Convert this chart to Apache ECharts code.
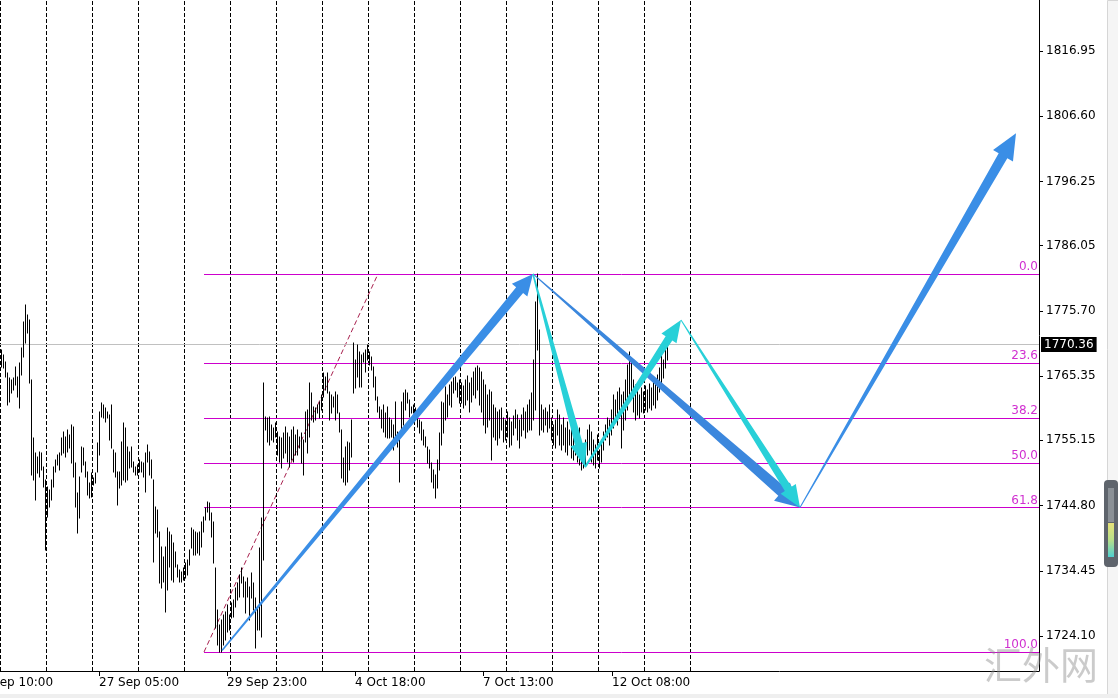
<!DOCTYPE html>
<html><head><meta charset="utf-8">
<script src="https://cdn.jsdelivr.net/npm/echarts@6/dist/echarts.min.js"></script>
<style>html,body{margin:0;padding:0;background:#fff;overflow:hidden}#c{width:1118px;height:698px}</style>
</head><body><div id="c"></div>
<script>
// ---- data (H1 bars, high / low) ----
const highs = [
1769.5,1768.7,1767.6,1765.8,1765.0,1764.7,1765.0,1766.8,1765.2,1767.4,
1769.8,1773.9,1776.6,1775.0,1774.2,1764.7,1755.5,1753.1,1752.5,1753.3,
1753.1,1750.9,1748.9,1747.7,1747.3,1748.9,1750.9,1752.0,1752.8,1753.1,
1755.5,1756.5,1755.7,1756.8,1756.0,1757.6,1757.3,1751.5,1746.8,1749.3,
1754.1,1753.9,1751.7,1750.1,1748.4,1749.9,1749.2,1749.9,1754.7,1759.6,
1761.1,1760.8,1760.3,1759.6,1759.2,1760.8,1753.6,1753.1,1750.1,1750.1,
1754.9,1757.9,1757.1,1754.1,1753.3,1754.1,1751.7,1750.9,1751.2,1752.0,
1751.7,1751.5,1753.1,1754.4,1753.3,1752.0,1748.9,1744.6,1744.1,1740.6,
1738.2,1736.6,1738.2,1741.2,1740.6,1740.1,1738.9,1737.4,1735.4,1734.6,
1734.2,1734.9,1735.7,1736.2,1737.7,1741.2,1740.9,1740.6,1740.4,1740.6,
1742.2,1743.0,1744.4,1745.4,1745.2,1743.6,1742.2,1734.9,1728.2,1725.8,
1726.6,1727.4,1727.9,1729.0,1727.4,1729.3,1729.8,1731.7,1732.5,1733.8,
1734.9,1733.5,1732.7,1733.3,1731.9,1734.1,1732.5,1730.1,1728.7,1738.1,
1742.8,1764.2,1758.9,1758.7,1758.9,1757.6,1757.1,1757.9,1756.5,1755.7,
1755.5,1756.3,1757.3,1756.3,1755.7,1756.8,1757.3,1756.0,1756.8,1755.7,
1756.3,1755.2,1759.6,1759.9,1764.2,1762.6,1760.4,1760.3,1760.8,1761.2,
1762.3,1765.8,1765.2,1765.8,1762.8,1762.3,1762.0,1762.8,1762.3,1759.5,
1756.8,1752.3,1754.1,1754.9,1754.7,1758.4,1770.6,1767.9,1770.3,1769.2,
1768.7,1769.0,1769.5,1770.3,1769.2,1768.4,1766.8,1765.2,1762.0,1760.4,
1759.9,1760.8,1759.5,1760.4,1758.7,1758.4,1757.6,1761.2,1756.5,1755.7,
1761.2,1762.6,1763.1,1762.6,1761.5,1760.4,1760.8,1760.3,1759.9,1758.4,
1758.1,1756.8,1755.7,1754.1,1753.6,1751.5,1750.4,1749.6,1752.0,1756.3,
1761.2,1761.1,1763.6,1762.3,1763.9,1764.4,1765.0,1765.2,1764.2,1764.7,
1764.2,1763.8,1764.7,1765.4,1764.2,1765.0,1766.0,1766.6,1766.9,1766.6,
1766.0,1764.7,1763.9,1762.3,1763.1,1762.8,1760.8,1760.3,1759.6,1759.9,
1760.3,1758.7,1758.4,1759.6,1758.7,1758.1,1759.0,1759.9,1759.2,1758.4,
1759.2,1760.3,1759.6,1760.8,1761.5,1762.6,1767.9,1777.1,1781.5,1772.7,
1760.8,1759.9,1760.3,1759.6,1760.8,1758.7,1757.6,1758.4,1759.9,1759.2,
1757.6,1758.7,1757.1,1758.1,1756.8,1757.6,1756.0,1756.5,1755.2,1757.1,
1754.4,1753.9,1755.2,1756.8,1757.6,1756.5,1755.2,1754.4,1756.0,1753.6,
1755.2,1756.5,1757.6,1758.7,1758.4,1759.9,1762.3,1761.5,1762.8,1763.4,
1762.3,1762.8,1764.7,1767.1,1769.2,1767.6,1764.7,1763.9,1763.1,1762.3,
1763.4,1762.8,1763.8,1763.1,1764.1,1763.4,1764.7,1764.4,1765.5,1766.6,
1768.7,1767.9,1769.8,1770.6
];
const lows = [
1766.8,1766.6,1765.2,1760.8,1761.2,1762.6,1763.1,1763.9,1762.0,1760.3,
1765.5,1768.4,1770.6,1772.2,1764.2,1749.6,1748.9,1745.7,1749.9,1749.3,
1750.4,1747.7,1737.7,1743.0,1744.6,1745.7,1747.7,1750.1,1751.2,1750.4,
1752.8,1753.1,1752.5,1753.3,1753.9,1751.5,1749.3,1744.6,1740.4,1742.8,
1750.1,1751.2,1749.3,1746.5,1746.0,1746.1,1748.1,1748.4,1750.1,1752.8,
1758.9,1758.7,1758.0,1758.7,1755.2,1753.9,1750.1,1749.3,1744.9,1747.6,
1748.1,1748.9,1748.5,1748.9,1750.8,1750.9,1750.1,1749.6,1749.6,1750.1,
1750.1,1749.3,1746.9,1751.7,1749.6,1749.2,1735.8,1740.4,1739.8,1732.5,
1731.7,1732.6,1727.9,1731.4,1735.0,1733.0,1732.6,1735.0,1733.4,1732.6,
1732.6,1733.0,1733.3,1733.8,1735.4,1738.1,1736.9,1736.9,1737.3,1736.9,
1738.2,1740.6,1742.5,1743.8,1742.5,1739.8,1735.7,1725.4,1722.6,1721.6,
1721.6,1722.6,1723.5,1724.7,1725.0,1726.9,1727.1,1728.7,1729.8,1730.3,
1732.5,1730.3,1727.7,1730.3,1726.6,1730.1,1728.2,1722.2,1725.0,1725.0,
1724.0,1736.2,1756.8,1754.9,1754.4,1755.2,1754.9,1755.7,1752.8,1751.7,
1750.8,1752.3,1753.1,1751.7,1750.9,1752.0,1751.7,1752.8,1752.8,1753.9,
1751.5,1749.6,1754.9,1753.1,1755.7,1758.4,1758.0,1758.4,1759.5,1758.7,
1759.9,1762.0,1763.1,1762.6,1758.4,1759.5,1760.4,1758.4,1759.5,1756.5,
1749.2,1748.5,1748.1,1748.5,1750.4,1752.5,1762.6,1763.4,1765.2,1763.6,
1763.6,1767.6,1766.0,1767.9,1767.1,1766.3,1763.6,1761.5,1759.6,1758.7,
1757.1,1756.5,1755.7,1755.5,1755.5,1755.7,1753.6,1755.2,1754.1,1748.5,
1756.0,1757.6,1759.9,1761.1,1758.9,1759.5,1759.5,1759.2,1757.3,1756.3,
1755.2,1754.4,1754.1,1751.5,1750.8,1748.5,1747.6,1746.0,1747.6,1750.4,
1754.4,1756.3,1758.4,1758.9,1760.8,1760.4,1762.6,1763.1,1762.0,1761.1,
1761.1,1760.3,1760.8,1761.5,1759.6,1761.2,1762.3,1761.9,1763.1,1760.8,
1759.6,1757.6,1756.3,1757.3,1758.4,1752.0,1755.7,1755.2,1754.4,1755.5,
1756.8,1754.9,1755.2,1755.7,1754.1,1754.4,1756.0,1757.1,1755.2,1753.9,
1755.8,1756.8,1755.5,1756.5,1756.8,1756.8,1758.4,1759.9,1769.5,1756.0,
1756.8,1756.5,1757.6,1756.5,1757.1,1755.2,1754.4,1753.9,1756.0,1754.4,
1753.6,1754.4,1753.3,1752.8,1754.4,1752.3,1752.0,1752.8,1751.7,1751.2,
1750.4,1750.8,1751.1,1752.8,1753.6,1751.7,1751.2,1750.8,1752.0,1750.8,
1751.7,1753.6,1755.2,1755.7,1754.4,1756.0,1757.1,1758.4,1757.6,1758.7,
1753.9,1756.8,1758.4,1759.9,1761.9,1762.3,1759.6,1758.4,1759.2,1758.7,
1759.6,1759.5,1759.9,1759.6,1760.3,1759.9,1760.8,1760.3,1761.5,1762.8,
1764.0,1765.0,1766.6,1767.9
];
const timeLabels = ['22 Sep 10:00','27 Sep 05:00','29 Sep 23:00','4 Oct 18:00','7 Oct 13:00','12 Oct 08:00'];
const timeLabelBars = [-14, 49, 113, 177, 241, 305.5];
const priceTicks = [1724.10,1734.45,1744.80,1755.15,1765.35,1775.70,1786.05,1796.25,1806.60,1816.95];
const gridLineBars = [-0.25,22.75,45.75,68.75,91.75,114.75,137.75,160.75,183.75,206.75,229.75,252.75,275.75,298.75,321.75,344.75];
const fibRatios = [0.0, 23.6, 38.2, 50.0, 61.8, 100.0];
const fibHigh = 1781.56, fibLow = 1721.56;
const fibStartBar = 101.5, fibEndBar = 188.5;
const lastPrice = 1770.36;
const arrowFrom = [[110.5,1721.8],[266,1781.56],[266,1781.56],[292,1750.9],[340,1774.25],[399.5,1744.5]];
const arrowTo   = [[266,1781.56],[399.5,1744.5],[292,1750.9],[340,1774.25],[399.5,1744.5],[507.5,1803.9]];

// ---- styles ----
const arrowColors = ['#3a8ee6','#3b87dd','#28d0d8','#28d0d8','#28d0d8','#3a8ee6'];
const arrowDims = [ // [startWidth, shaftEndWidth, headLength, headWidth]
  [1.5, 9, 21, 20],[1, 11, 24, 24],[1.5, 8, 24, 17],[2, 8, 22, 18],[1, 8, 22, 18],[1, 10, 26, 23]
];
const FONT = 'DejaVu Sans';
const X_MIN = -0.5, X_MAX = 519;
const Y_MIN = 1718.54, Y_MAX = 1825.04;
const LABEL_MARGIN = 6;
const visibleLabelBars = timeLabelBars.filter(v => v >= X_MIN);

const chart = echarts.init(document.getElementById('c'), null, {renderer:'canvas'});
const barData = highs.map((h, i) => [i, lows[i], h]);
const arrowData = arrowFrom.map((f, i) => [f[0], f[1], arrowTo[i][0], arrowTo[i][1]]);
const fibLevels = fibRatios.map(r => fibHigh - r / 100 * (fibHigh - fibLow));

function nearestLabel(v){
  for (let i = 0; i < timeLabelBars.length; i++) if (Math.abs(timeLabelBars[i] - v) < 0.01) return timeLabels[i];
  return '';
}

const staticGraphics = [
  {id: 'strip', type: 'rect', left: 1107, top: 0, z: 100, shape: {width: 11, height: 698}, style: {fill: '#f5f5f5', stroke: '#d6d6d6', lineWidth: 1}},
  {id: 'bottom', type: 'rect', left: 0, top: 694, z: 100, shape: {width: 1118, height: 4}, style: {fill: '#efefef'}},
  {id: 'knob', type: 'rect', left: 1104, top: 480, z: 101, shape: {width: 14, height: 87, r: 4}, style: {fill: '#5e646c'}},
  {id: 'knobTop', type: 'rect', left: 1108, top: 488, z: 102, shape: {width: 6, height: 34}, style: {fill: '#8a9096'}},
  {id: 'knobBar', type: 'rect', left: 1108, top: 523, z: 102, shape: {width: 6, height: 34},
    style: {fill: new echarts.graphic.LinearGradient(0, 0, 0, 1, [{offset: 0, color: '#e6e27a'}, {offset: 0.5, color: '#b8e08a'}, {offset: 1, color: '#4fd0d0'}])}},
  {id: 'wm', type: 'text', left: 984, top: 646, z: 103, silent: true,
    style: {text: '汇外网', font: '38px "Noto Sans CJK SC"', fill: 'rgba(140,140,140,0.45)'}}
];

chart.setOption({
  animation: false,
  backgroundColor: '#ffffff',
  textStyle: {fontFamily: FONT},
  grid: {left: 0, right: 79, top: 0, bottom: 27, containLabel: false},
  xAxis: {
    type: 'value', min: X_MIN, max: X_MAX,
    axisLine: {show: true, onZero: false, lineStyle: {color: '#000', width: 1}},
    axisTick: {show: true, customValues: visibleLabelBars, length: 5, lineStyle: {color: '#000'}},
    axisLabel: {show: true, customValues: visibleLabelBars, formatter: nearestLabel, align: 'left',
      margin: LABEL_MARGIN, color: '#000', fontSize: 12, fontFamily: FONT},
    splitLine: {show: false}
  },
  yAxis: {
    type: 'value', position: 'right', min: Y_MIN, max: Y_MAX, scale: true,
    axisLine: {show: true, onZero: false, lineStyle: {color: '#000', width: 1}},
    axisTick: {show: true, customValues: priceTicks, length: 4, lineStyle: {color: '#000'}},
    axisLabel: {show: true, customValues: priceTicks, formatter: v => v.toFixed(2),
      margin: 7, color: '#000', fontSize: 12, fontFamily: FONT},
    splitLine: {show: false}
  },
  series: [
    { // vertical dashed grid
      type: 'line', data: [], silent: true, z: 1,
      markLine: {silent: true, symbol: ['none','none'], animation: false,
        label: {show: false},
        lineStyle: {color: '#000', type: [4, 2], width: 1},
        data: gridLineBars.map(v => ({xAxis: v}))}
    },
    { // current price line
      type: 'line', data: [], silent: true, z: 2,
      markLine: {silent: true, symbol: ['none','none'], animation: false,
        lineStyle: {color: '#c0c0c0', type: 'solid', width: 1},
        label: {show: true, position: 'end', distance: 2, formatter: () => lastPrice.toFixed(2),
          color: '#fff', backgroundColor: '#000', padding: [2, 3, 1, 3], fontSize: 12, fontFamily: FONT},
        data: [{yAxis: lastPrice}]}
    },
    { // fibonacci levels
      type: 'line', data: [], silent: true, z: 3,
      markLine: {silent: true, symbol: ['none','none'], animation: false,
        lineStyle: {color: '#cc00cc', type: 'solid', width: 1},
        label: {show: true, position: 'insideEndTop', distance: 1, formatter: '{b}',
          color: '#d030d0', fontSize: 12, fontFamily: FONT},
        data: fibLevels.map((lv, i) => [
          {coord: [fibStartBar, lv], name: fibRatios[i].toFixed(1)},
          {coord: [X_MAX, lv]}
        ])}
    },
    { // fibonacci trend (dashed)
      type: 'line', silent: true, z: 4, symbol: 'none',
      data: [[fibStartBar, fibLow], [fibEndBar, fibHigh]],
      lineStyle: {color: '#a8204e', width: 1, type: [5, 3]}
    },
    { // bars
      type: 'custom', silent: true, z: 5,
      data: barData,
      encode: {x: 0, y: [1, 2]},
      renderItem: (params, api) => {
        const lo = api.coord([api.value(0), api.value(1)]);
        const hi = api.coord([api.value(0), api.value(2)]);
        const x = Math.round(lo[0]) + 0.5;
        return {type: 'line', shape: {x1: x, y1: Math.round(lo[1]) + 0.5, x2: x, y2: Math.round(hi[1]) - 0.5},
          style: {stroke: '#000', lineWidth: 1}};
      }
    },
    { // arrows
      type: 'custom', silent: true, z: 6,
      data: arrowData,
      encode: {x: [0, 2], y: [1, 3]},
      renderItem: (params, api) => {
        const i = params.dataIndex;
        const p0 = api.coord([api.value(0), api.value(1)]);
        const p1 = api.coord([api.value(2), api.value(3)]);
        const dx = p1[0] - p0[0], dy = p1[1] - p0[1];
        const L = Math.sqrt(dx * dx + dy * dy);
        const ux = dx / L, uy = dy / L, nx = -uy, ny = ux;
        const [w0, w1, hl, hw] = arrowDims[i];
        const sx = p1[0] - ux * hl, sy = p1[1] - uy * hl;
        const pts = [
          [p0[0] + nx * w0 / 2, p0[1] + ny * w0 / 2],
          [sx + nx * w1 / 2, sy + ny * w1 / 2],
          [sx + nx * hw / 2, sy + ny * hw / 2],
          [p1[0], p1[1]],
          [sx - nx * hw / 2, sy - ny * hw / 2],
          [sx - nx * w1 / 2, sy - ny * w1 / 2],
          [p0[0] - nx * w0 / 2, p0[1] - ny * w0 / 2]
        ];
        return {type: 'polygon', shape: {points: pts}, style: {fill: arrowColors[i]}};
      }
    }
  ],
  graphic: staticGraphics
});

// time labels whose bar lies left of the plot (partly cut off by the window edge)
const axisY = chart.convertToPixel({yAxisIndex: 0}, Y_MIN);
const cutLabels = timeLabelBars.map((v, i) => [v, timeLabels[i]]).filter(d => d[0] < X_MIN);
const xScale = chart.getModel().getComponent('xAxis', 0).axis;
chart.setOption({graphic: staticGraphics.concat(cutLabels.map((d, i) => {
  const px = xScale.dataToCoord(d[0]) + chart.getModel().getComponent('grid', 0).coordinateSystem.getRect().x;
  return {
    id: 'cut' + i, type: 'text', z: 50, silent: true,
    x: px, y: axisY + LABEL_MARGIN,
    style: {text: d[1], font: '12px "' + FONT + '"', fill: '#000', verticalAlign: 'top', align: 'left'}
  };
}))});
</script>
